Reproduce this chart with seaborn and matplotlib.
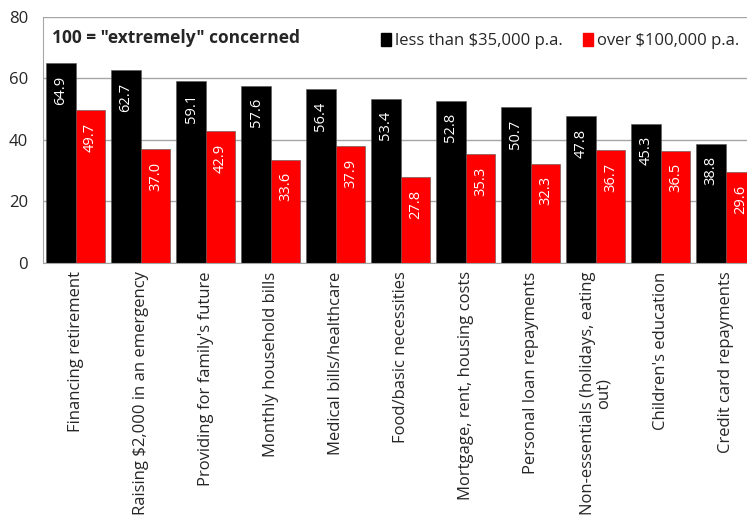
import numpy as np
import pandas as pd
import matplotlib
matplotlib.use("Agg")
import matplotlib.pyplot as plt
import seaborn as sns
from matplotlib.patches import Patch

categories = [
    "Financing retirement",
    "Raising $2,000 in an emergency",
    "Providing for family's future",
    "Monthly household bills",
    "Medical bills/healthcare",
    "Food/basic necessities",
    "Mortgage, rent, housing costs",
    "Personal loan repayments",
    "Non-essentials (holidays, eating\nout)",
    "Children's education",
    "Credit card repayments",
]
low_income = [64.9, 62.7, 59.1, 57.6, 56.4, 53.4, 52.8, 50.7, 47.8, 45.3, 38.8]
high_income = [49.7, 37.0, 42.9, 33.6, 37.9, 27.8, 35.3, 32.3, 36.7, 36.5, 29.6]
series = ["less than $35,000 p.a.", "over $100,000 p.a."]
colors = ["#000000", "#ff0000"]

df = pd.DataFrame({
    "category": categories * 2,
    "group": [series[0]] * len(categories) + [series[1]] * len(categories),
    "value": low_income + high_income,
})

sns.set_style("white")
plt.rcParams["font.family"] = ["Open Sans", "DejaVu Sans"]

fig = plt.figure(figsize=(7.47, 5.27), dpi=100)
ax = fig.add_axes([0.058, 0.501, 0.957, 0.467])

sns.barplot(data=df, x="category", y="value", hue="group", palette=colors,
            width=0.91, ax=ax, legend=False, edgecolor="#555555", linewidth=0.4,
            saturation=1)

ax.set_ylim(0, 80)
ax.set_xlim(-0.5, len(categories) - 0.5)
ax.set_yticks([0, 20, 40, 60, 80])
ax.yaxis.grid(True, color="#a6a6a6", linewidth=1)
ax.set_axisbelow(True)
ax.set_xlabel("")
ax.set_ylabel("")
for s in ["top", "right"]:
    ax.spines[s].set_visible(False)
ax.spines["left"].set_color("#a6a6a6")
ax.spines["bottom"].set_color("#a6a6a6")

ax.tick_params(axis="y", length=0, labelsize=12, pad=11)
ax.tick_params(axis="x", which="major", length=0, labelsize=12, pad=6)
ax.set_xticks(np.arange(-0.5, len(categories) - 1, 1), minor=True)
ax.tick_params(axis="x", which="minor", length=5, color="#a6a6a6")
ax.set_xticklabels(categories, rotation=90, va="top", ha="center",
                   linespacing=0.95)

for container in ax.containers:
    ax.bar_label(container, fmt="%.1f", label_type="edge", padding=-30,
                 rotation=90, color="white", fontsize=10.5)

fig.text(0.07, 0.928, '100 = "extremely" concerned', fontsize=12.5,
         fontweight="bold", va="center")
handles = [Patch(facecolor=c, edgecolor=c) for c in colors]
fig.legend(handles, series, loc="center right", bbox_to_anchor=(1.01, 0.922),
           ncol=2, frameon=False, fontsize=12, handlelength=0.6,
           handleheight=0.8, handletextpad=0.25, columnspacing=1.2)

fig.savefig("out.png", dpi=100)
